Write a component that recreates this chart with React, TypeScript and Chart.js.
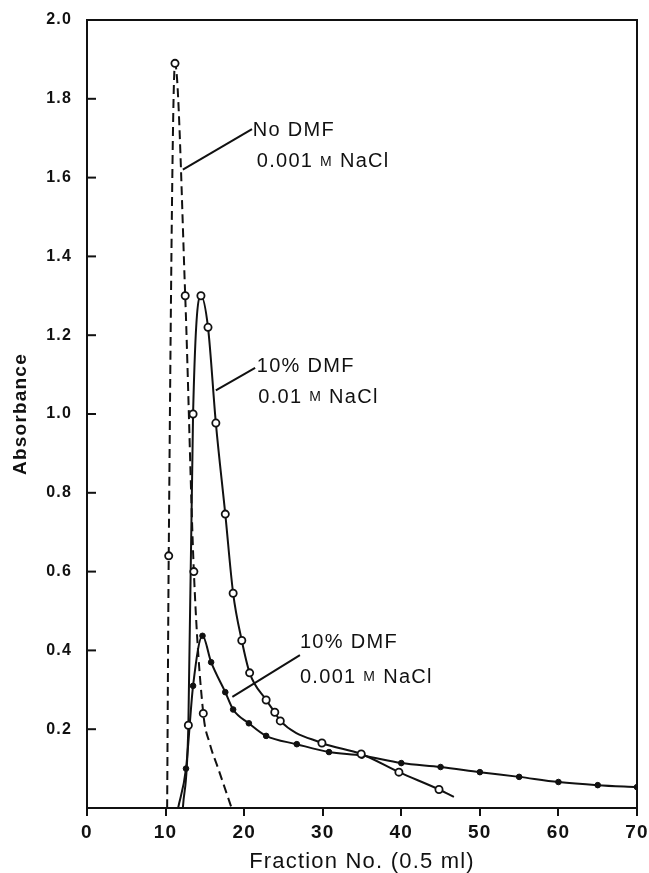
import React, { useEffect, useRef } from 'react';
import { Chart, registerables } from 'chart.js';

Chart.register(...registerables);

// ---- Data ----
const noDmfX = [10.2, 10.4, 11.2, 12.5, 13.6, 14.8, 15.6, 16.7, 18.4];
const noDmfY = [0, 0.64, 1.89, 1.3, 0.6, 0.24, 0.165, 0.1, 0];
const noDmfMarked = [false, true, true, true, true, true, false, false, false];

const dmf01X = [12.2, 12.9, 13.5, 14.5, 15.4, 16.4, 17.6, 18.6, 19.7, 20.7, 22.8, 23.9, 24.6, 29.9, 34.9, 39.7, 44.8, 46.7];
const dmf01Y = [0, 0.21, 1.0, 1.3, 1.22, 0.977, 0.746, 0.545, 0.425, 0.343, 0.274, 0.243, 0.221, 0.165, 0.137, 0.091, 0.047, 0.028];
const dmf01Marked = [false, true, true, true, true, true, true, true, true, true, true, true, true, true, true, true, true, false];

const dmf001X = [11.6, 12.6, 13.5, 14.7, 15.8, 17.6, 18.6, 20.6, 22.8, 26.7, 30.8, 35, 40, 45, 50, 55, 60, 65, 70];
const dmf001Y = [0, 0.1, 0.31, 0.437, 0.37, 0.294, 0.25, 0.215, 0.183, 0.162, 0.142, 0.133, 0.114, 0.104, 0.091, 0.079, 0.066, 0.058, 0.053];
const dmf001Marked = [false, true, true, true, true, true, true, true, true, true, true, true, true, true, true, true, true, true, true];

const xMin = 0;
const xMax = 70;
const xStep = 10;
const yMin = 0;
const yMax = 2.0;
const yStep = 0.2;

const xTitle = 'Fraction No. (0.5 ml)';
const yTitle = 'Absorbance';

// Curve labels (text) and their placement in data units
const noteLines = [
  ['No DMF', '0.001 M NaCl'],
  ['10% DMF', '0.01 M NaCl'],
  ['10% DMF', '0.001 M NaCl'],
];
const noteLine1Pos = [[21.1, 1.72], [21.6, 1.12], [27.1, 0.421]];
const noteLine2Pos = [[21.6, 1.64], [21.8, 1.043], [27.1, 0.332]];
const leaderFrom = [[12.2, 1.62], [16.4, 1.06], [18.5, 0.282]];
const leaderTo = [[21.0, 1.723], [21.4, 1.117], [27.1, 0.388]];

const FONT = '"Liberation Sans", Arial, sans-serif';
const INK = '#111';

function pts(xs: number[], ys: number[]) {
  return xs.map((x, i) => ({ x, y: ys[i] }));
}

const spacingPlugin = {
  id: 'spacing',
  beforeUpdate(chart: any) { chart.ctx.letterSpacing = '1.2px'; },
  beforeLayout(chart: any) { chart.ctx.letterSpacing = '1.2px'; },
  beforeDraw(chart: any) { chart.ctx.letterSpacing = '1.2px'; },
};

const framePlugin = {
  id: 'frame',
  afterDraw(chart: any) {
    const { ctx, chartArea } = chart;
    const ys = chart.scales.y;
    ctx.save();
    ctx.strokeStyle = INK;
    ctx.lineWidth = 2;
    ctx.strokeRect(chartArea.left, chartArea.top, chartArea.right - chartArea.left, chartArea.bottom - chartArea.top);
    // inward y ticks
    ys.ticks.forEach((t: any) => {
      if (t.value > yMin + 1e-6 && t.value < yMax - 1e-6) {
        const py = ys.getPixelForValue(t.value);
        ctx.beginPath();
        ctx.moveTo(chartArea.left, py);
        ctx.lineTo(chartArea.left + 9, py);
        ctx.stroke();
      }
    });
    ctx.restore();
  },
};

function drawRich(ctx: CanvasRenderingContext2D, text: string, x: number, y: number) {
  const big = `20px ${FONT}`;
  const small = `14px ${FONT}`;
  const words = text.split(' ');
  let cx = x;
  words.forEach((w, i) => {
    ctx.font = w === 'M' ? small : big;
    ctx.fillText(w, cx, y);
    cx += ctx.measureText(w).width;
    if (i < words.length - 1) {
      ctx.font = big;
      cx += ctx.measureText(' ').width;
    }
  });
}

const notesPlugin = {
  id: 'notes',
  afterDatasetsDraw(chart: any) {
    const { ctx } = chart;
    const xs = chart.scales.x;
    const ys = chart.scales.y;
    ctx.save();
    ctx.fillStyle = INK;
    ctx.strokeStyle = INK;
    ctx.lineWidth = 2;
    ctx.letterSpacing = '1.3px';
    ctx.textBaseline = 'middle';
    ctx.textAlign = 'left';
    noteLines.forEach((lines, i) => {
      ctx.beginPath();
      ctx.moveTo(xs.getPixelForValue(leaderFrom[i][0]), ys.getPixelForValue(leaderFrom[i][1]));
      ctx.lineTo(xs.getPixelForValue(leaderTo[i][0]), ys.getPixelForValue(leaderTo[i][1]));
      ctx.stroke();
      drawRich(ctx, lines[0], xs.getPixelForValue(noteLine1Pos[i][0]), ys.getPixelForValue(noteLine1Pos[i][1]));
      drawRich(ctx, lines[1], xs.getPixelForValue(noteLine2Pos[i][0]), ys.getPixelForValue(noteLine2Pos[i][1]));
    });
    ctx.restore();
  },
};

export default function App() {
  const ref = useRef<HTMLCanvasElement | null>(null);

  useEffect(() => {
    const canvas = ref.current;
    if (!canvas) return;
    const common = {
      borderColor: INK,
      borderWidth: 2,
      pointBackgroundColor: '#fff',
      pointBorderColor: INK,
      pointBorderWidth: 1.8,
      cubicInterpolationMode: 'monotone' as const,
      fill: false,
    };
    const chart = new Chart(canvas, {
      type: 'line',
      data: {
        datasets: [
          {
            ...common,
            label: 'No DMF, 0.001 M NaCl',
            data: pts(noDmfX, noDmfY),
            borderDash: [9, 5],
            pointRadius: noDmfMarked.map((m) => (m ? 3.6 : 0)),
          },
          {
            ...common,
            label: '10% DMF, 0.01 M NaCl',
            data: pts(dmf01X, dmf01Y),
            pointRadius: dmf01Marked.map((m) => (m ? 3.6 : 0)),
          },
          {
            ...common,
            label: '10% DMF, 0.001 M NaCl',
            data: pts(dmf001X, dmf001Y),
            pointBackgroundColor: INK,
            pointBorderWidth: 1,
            pointRadius: dmf001Marked.map((m) => (m ? 2.8 : 0)),
          },
        ],
      },
      options: {
        animation: false,
        responsive: false,
        maintainAspectRatio: false,
        layout: { padding: { left: 0, right: 12, top: 20, bottom: 0 } },
        plugins: { legend: { display: false }, tooltip: { enabled: false } },
        scales: {
          x: {
            type: 'linear',
            min: xMin,
            max: xMax,
            ticks: {
              stepSize: xStep,
              color: INK,
              font: { family: FONT, size: 19, weight: 'bold' },
              padding: 5,
              maxRotation: 0,
              autoSkip: false,
            },
            grid: { drawOnChartArea: false, drawTicks: true, tickLength: 8, color: INK, lineWidth: 2 },
            border: { display: true, color: INK, width: 2 },
            title: {
              display: true,
              text: xTitle,
              color: INK,
              font: { family: FONT, size: 22, lineHeight: 1 },
              padding: { top: 0, bottom: 0 },
            },
            afterFit: (s: any) => {
              s.height = 65;
              s.paddingLeft = 0;
              s.paddingRight = 0;
            },
          },
          y: {
            type: 'linear',
            min: yMin,
            max: yMax,
            ticks: {
              stepSize: yStep,
              color: INK,
              font: { family: FONT, size: 16, weight: 'bold' },
              padding: 15,
              callback: (v: any) => (Math.abs(v) < 1e-9 ? '' : Number(v).toFixed(1)),
            },
            grid: { drawOnChartArea: false, drawTicks: false, color: INK, lineWidth: 2 },
            border: { display: true, color: INK, width: 2 },
            title: {
              display: true,
              text: yTitle,
              color: INK,
              font: { family: FONT, size: 19, weight: 'bold', lineHeight: 1 },
              padding: { top: 11.5, bottom: 0 },
            },
            afterFit: (s: any) => {
              s.width = 87;
              s.paddingTop = 0;
              s.paddingBottom = 0;
            },
          },
        },
      },
      plugins: [spacingPlugin, framePlugin, notesPlugin],
    });
    return () => chart.destroy();
  }, []);

  return (
    <div style={{ position: 'fixed', left: 0, top: 0, width: 649, height: 873, background: '#fff' }}>
      <canvas ref={ref} width={649} height={873} style={{ width: 649, height: 873, display: 'block' }} />
    </div>
  );
}
